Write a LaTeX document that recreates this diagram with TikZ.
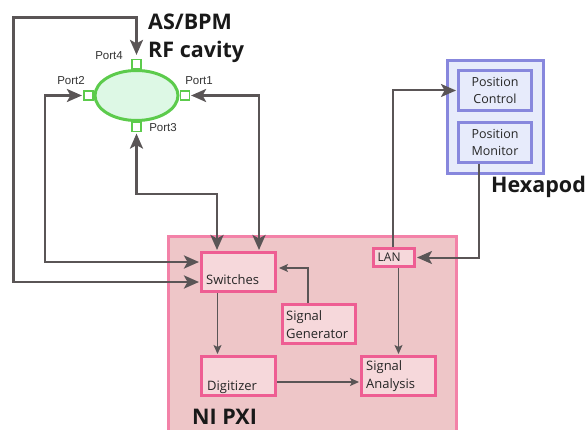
\documentclass[tikz,border=0pt]{standalone}
\usepackage{fontspec}
\setmainfont{Open Sans}
\newfontfamily\portfont{Liberation Sans}
\usetikzlibrary{arrows.meta,shapes.geometric,calc}
\definecolor{linegray}{HTML}{5A5556}
\definecolor{pxifill}{HTML}{EEC6C8}
\definecolor{pxiborder}{HTML}{F382A8}
\definecolor{pinkfill}{HTML}{F6D8DB}
\definecolor{pinkborder}{HTML}{EE5E93}
\definecolor{hexfill}{HTML}{E7EBFB}
\definecolor{hexborder}{HTML}{8787DD}
\definecolor{cavfill}{HTML}{DDF8E5}
\definecolor{cavborder}{HTML}{5CCB4C}
\begin{document}
\begin{tikzpicture}[x=1pt,y=-1pt,
  pinkbox/.style={draw=pinkborder, fill=pinkfill, line width=3pt, minimum width=74pt, minimum height=39pt, inner sep=0pt},
  bluebox/.style={draw=hexborder, fill=hexfill, line width=3pt, minimum width=73pt, minimum height=40pt, inner sep=0pt, align=center, font=\fontsize{12.5}{17}\selectfont, text=black!85},
  boxtxt/.style={font=\fontsize{13}{18}\selectfont, text=black!85, inner sep=0pt, align=left},
  portsq/.style={draw=cavborder, fill=white, line width=1.1pt, minimum size=9pt, inner sep=0pt},
  porttxt/.style={font=\portfont\fontsize{11.5}{13}\selectfont, text=black!80, inner sep=0pt},
  title/.style={font=\bfseries\fontsize{21.5}{25}\selectfont, text=black!90, inner sep=0pt, anchor=west},
  conn/.style={draw=linegray, line width=2.7pt, {Stealth[length=15pt,width=13pt,inset=3.5pt]}-{Stealth[length=15pt,width=13pt,inset=3.5pt]}},
  lanconn/.style={draw=linegray, line width=2pt, -{Stealth[length=15pt,width=13pt,inset=3.5pt]}},
  thin/.style={draw=linegray, line width=1.3pt, -{Stealth[length=9pt,width=8pt,inset=2pt]}}
]
\useasboundingbox (0,0) rectangle (585,430);
\clip (0,0) rectangle (585,430);

% NI PXI
\node[draw=pxiborder, fill=pxifill, line width=3pt, minimum width=288pt, minimum height=204pt, inner sep=0pt] (pxi) at (312.5,338.5) {};
\node[title] (pxil) at (192,417) {NI PXI};

% Hexapod
\node[draw=hexborder, fill=hexfill, line width=3pt, minimum width=96pt, minimum height=113pt, inner sep=0pt] (hex) at (495.5,117) {};
\node[bluebox] (pc) at (495,90.5) {Position\\Control};
\node[bluebox] (pm) at (495,142.5) {Position\\Monitor};
\node[title] (hexl) at (491,187) {Hexapod};

% inner boxes
\node[pinkbox] (sw) at (238.5,272) {};
\node[boxtxt, anchor=west] (swt) at (206,280) {Switches};
\node[pinkbox] (dig) at (238.5,376) {};
\node[boxtxt, anchor=west] (digt) at (207,387) {Digitizer};
\node[pinkbox, minimum width=73pt] (sg) at (319,324) {};
\node[boxtxt, anchor=west] (sgt) at (286,324.5) {Signal\\Generator};
\node[pinkbox] (sa) at (398.5,376) {};
\node[boxtxt, anchor=west] (sat) at (366,376.5) {Signal\\Analysis};
\node[pinkbox, minimum width=41pt, minimum height=18pt] (lan) at (394,257.5) {};
\node[boxtxt, anchor=west, font=\fontsize{12}{14}\selectfont] (lant) at (377.5,257.5) {LAN};

% cavity
\node[ellipse, draw=cavborder, fill=cavfill, line width=3pt, minimum width=83pt, minimum height=50pt, inner sep=0pt] (cav) at (136.5,95.5) {};
\node[portsq, anchor=south] (p4) at (cav.north) {};
\node[portsq, anchor=north] (p3) at (cav.south) {};
\node[portsq, anchor=west] (p1) at (cav.east) {};
\node[portsq, anchor=east] (p2) at (cav.west) {};
\node[porttxt] (p4l) at (109,56) {Port4};
\node[porttxt] (p2l) at (71,81) {Port2};
\node[porttxt] (p1l) at (199,81) {Port1};
\node[porttxt] (p3l) at (163,128) {Port3};
\node[title] (asl) at (148,22) {AS/BPM};
\node[title] (rfl) at (148,52) {RF cavity};

% connectors
\coordinate (c1) at (13.5,17.5);
\coordinate (c2) at (45,262);
\coordinate (c3) at (217,194);
\draw[conn, shorten <=4pt, shorten >=1pt] (p4.north) |- (c1) |- ([yshift=-10pt]sw.west);
\draw[conn, shorten <=1.5pt, shorten >=1pt] (p2.west) -| (c2) -- ([yshift=10pt]sw.west);
\draw[conn, shorten <=1.5pt, shorten >=1pt] (p3.south) |- (c3) -- ([xshift=-21.5pt]sw.north);
\draw[conn, shorten <=1.5pt, shorten >=1pt] (p1.east) -| ([xshift=20.5pt]sw.north);

\draw[thin, shorten >=1pt] ([xshift=-21pt]sw.south) -- ([xshift=-21pt]dig.north);
\draw[thin, shorten >=2pt] ([xshift=-11pt]sg.north) |- ([yshift=4pt]sw.east);
\draw[thin, shorten >=1pt] ([yshift=-6pt]dig.east) -- ([yshift=-6pt]dig.east -| sa.west);
\draw[thin, shorten >=1pt] (sa.north |- lan.south) -- (sa.north);

\draw[lanconn, shorten >=1pt] ([xshift=-16pt]pm.south) |- (lan.east);
\draw[lanconn, shorten >=1pt] ([xshift=-1pt]lan.north) |- (pc.west);
\end{tikzpicture}
\end{document}
